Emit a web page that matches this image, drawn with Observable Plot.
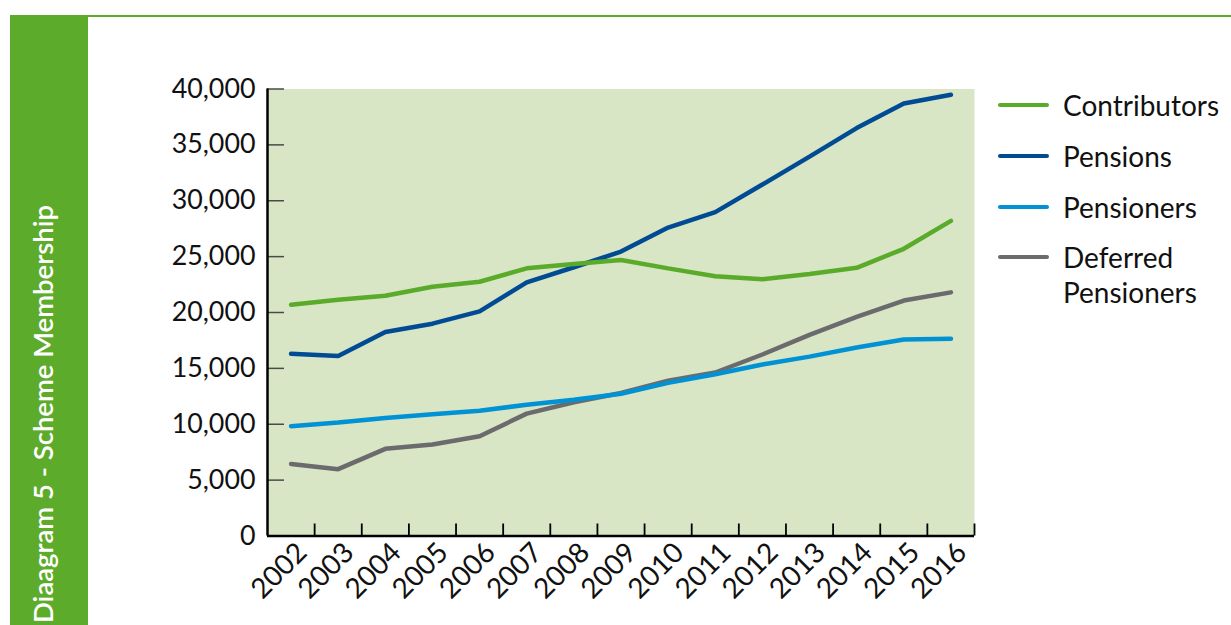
<!DOCTYPE html>
<html>
<head>
<meta charset="utf-8">
<script src="https://cdn.jsdelivr.net/npm/d3@7"></script>
<script src="https://cdn.jsdelivr.net/npm/@observablehq/plot@0.6"></script>
<style>
  body { margin: 0; background: #fff; font-family: Lato, "Noto Sans", sans-serif; }
  #wrap { position: relative; width: 1231px; height: 625px; overflow: hidden; background: #fff; }
  #topline { position: absolute; left: 10px; top: 15px; width: 1221px; height: 2px; background: #5dab2b; }
  #sidebar { position: absolute; left: 10px; top: 15px; width: 78px; height: 610px; background: #5dab2b; }
  #sidetitle { position: absolute; left: 29px; bottom: 2px; writing-mode: vertical-rl; transform: rotate(180deg);
               color: #fff; font-size: 27.5px; font-weight: 600; line-height: 28px; white-space: nowrap; }
  #chart { position: absolute; left: 0; top: 0; }
  .lg-item { position: absolute; left: 998px; }
  .lg-swatch { position: absolute; left: 0; width: 51px; height: 4.5px; border-radius: 2.5px; }
  .lg-text { position: absolute; left: 65px; font-size: 28px; line-height: 35px; color: #111; white-space: nowrap; }
</style>
</head>
<body>
<div id="wrap">
  <div id="topline"></div>
  <div id="sidebar"></div>
  <div id="sidetitle">Diaagram 5 - Scheme Membership</div>
  <div id="chart"></div>
  <div id="legend"></div>
</div>
<script>
const years = [2002, 2003, 2004, 2005, 2006, 2007, 2008, 2009, 2010, 2011, 2012, 2013, 2014, 2015, 2016];
const contributors = [20700, 21150, 21500, 22300, 22750, 23950, 24350, 24700, 23950, 23250, 22980, 23450, 24000, 25700, 28200];
const pensions     = [16300, 16100, 18250, 19000, 20100, 22700, 24050, 25450, 27600, 28980, 31450, 33950, 36500, 38700, 39480];
const pensioners   = [9830, 10150, 10550, 10900, 11200, 11750, 12200, 12720, 13700, 14480, 15350, 16050, 16870, 17580, 17650];
const deferred     = [6450, 5980, 7800, 8190, 8930, 10950, 11970, 12800, 13900, 14630, 16240, 18000, 19600, 21070, 21800];

const seriesNames  = ["Contributors", "Pensions", "Pensioners", "Deferred Pensioners"];
const seriesColors = ["#5aab2a", "#004b93", "#0092d5", "#6b6b6e"];
const legendLabels = ["Contributors", "Pensions", "Pensioners", "Deferred<br>Pensioners"];
const yTicks = [0, 5000, 10000, 15000, 20000, 25000, 30000, 35000, 40000];
const xTickLabels = years.map(String);

const seriesValues = {
  "Contributors": contributors,
  "Pensions": pensions,
  "Pensioners": pensioners,
  "Deferred Pensioners": deferred
};
// drawing order (bottom to top)
const drawOrder = ["Deferred Pensioners", "Pensions", "Pensioners", "Contributors"];
const rows = [];
for (const s of drawOrder) {
  seriesValues[s].forEach((v, i) => rows.push({ series: s, year: years[i], value: v }));
}
const bandEdges = years.map(y => y + 0.5);

const chart = Plot.plot({
  width: 1231,
  height: 625,
  marginLeft: 267,
  marginRight: 257,
  marginTop: 88.5,
  marginBottom: 89.5,
  style: { fontFamily: "Lato, 'Noto Sans', sans-serif", fontSize: "27px", color: "#111", background: "transparent", overflow: "visible" },
  x: { domain: [years[0] - 0.5, years[years.length - 1] + 0.5] },
  y: { domain: [yTicks[0], yTicks[yTicks.length - 1]] },
  color: { domain: seriesNames, range: seriesColors },
  marks: [
    Plot.frame({ fill: "#d8e6c5", stroke: null }),
    Plot.axisY({ ticks: yTicks, tickSize: 0, tickPadding: 12, tickFormat: d3.format(","), label: null, fontSize: 26.8, fill: "#111" }),
    Plot.axisY({ ticks: yTicks, tickSize: -17, tickFormat: () => "", label: null, stroke: "#4a4a4a", strokeWidth: 1.5 }),
    Plot.axisX({ ticks: years, tickSize: 0, tickPadding: 12, tickRotate: -45, dx: 11, tickFormat: (d) => xTickLabels[years.indexOf(d)], label: null, fontSize: 28, fill: "#111" }),
    Plot.axisX({ ticks: bandEdges, tickSize: -12, tickFormat: () => "", label: null, stroke: "#000", strokeWidth: 1.8 }),
    Plot.line(rows, { x: "year", y: "value", z: "series", stroke: "series", strokeWidth: 4.5, strokeLinecap: "round", strokeLinejoin: "miter" }),
    Plot.ruleX([years[0] - 0.5], { stroke: "#000", strokeWidth: 2.5 }),
    Plot.ruleY([0], { stroke: "#000", strokeWidth: 2.5 })
  ]
});
document.getElementById("chart").appendChild(chart);

const legendTops = [105, 156, 207, 257];
const legend = document.getElementById("legend");
seriesNames.forEach((name, i) => {
  const item = document.createElement("div");
  item.className = "lg-item";
  item.style.top = legendTops[i] + "px";
  item.innerHTML = `<div class="lg-swatch" style="background:${seriesColors[i]};top:-2.25px"></div>` +
                   `<div class="lg-text" style="top:-17px">${legendLabels[i]}</div>`;
  legend.appendChild(item);
});
</script>
</body>
</html>
